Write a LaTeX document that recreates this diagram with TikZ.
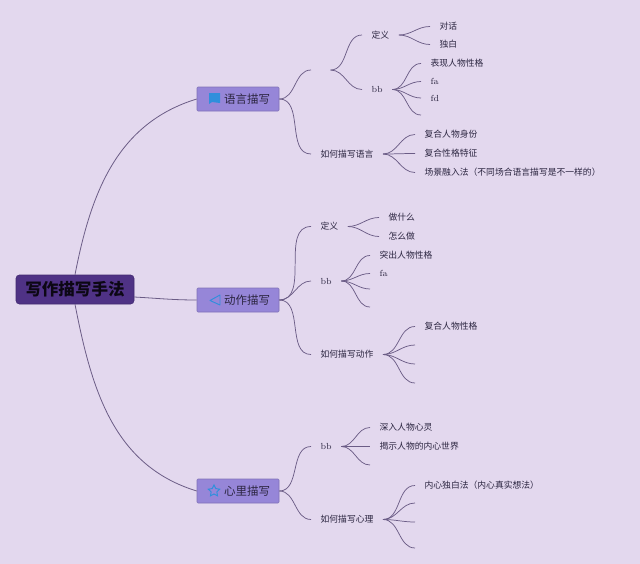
\documentclass[tikz,border=0pt]{standalone}
\usepackage{fontspec}
\usetikzlibrary{shapes.geometric}
\newfontfamily\cjk{Noto Sans CJK SC}
\definecolor{bgcol}{HTML}{E3D8EE}
\definecolor{rootcol}{HTML}{4F3285}
\definecolor{boxcol}{HTML}{9686D8}
\definecolor{linecol}{HTML}{6B5C86}
\definecolor{textcol}{HTML}{2B2540}
\definecolor{iconcol}{HTML}{2F8FDC}
\begin{document}
\begin{tikzpicture}[x=0.75pt,y=-0.75pt]
      \tikzstyle{rootnode} = [draw=rootcol!85!black, fill=rootcol, rounded corners=2.5pt, minimum width=88.5pt, minimum height=21.75pt, inner sep=0pt, font=\cjk\bfseries\fontsize{12.4}{14}\selectfont, text=black!85!rootcol]
      \tikzstyle{topicnode} = [draw=boxcol!85!black, fill=boxcol, rounded corners=0.8pt, minimum height=18pt, text width=48pt, inner xsep=6.75pt, inner ysep=0pt, align=right, font=\cjk\fontsize{8.6}{10}\selectfont, text=textcol]
      \tikzstyle{lab} = [anchor=west, inner xsep=7pt, inner ysep=0pt, text height=5.6pt, text depth=0.9pt, font=\cjk\fontsize{6.6}{8}\selectfont, text=textcol]
      \tikzstyle{latlab} = [lab, font=\rmfamily\fontsize{6.6}{8}\selectfont]
      \tikzstyle{conn} = [draw=linecol, line width=0.55pt, out=0, in=180]
      \tikzstyle{trunk} = [draw=linecol, line width=0.6pt]
      \tikzstyle{icon} = [iconcol, line width=0.7pt, inner sep=0pt]

      \fill[bgcol] (0,0) rectangle (640,564);

      \node[rootnode] (root) at (75,289.5) {写作描写手法};
      \coordinate (rootout) at (134,297);
      \node[topicnode] (yuyan) at (238,99) {语言描写};
      \node[topicnode] (dongzuo) at (238,300) {动作描写};
      \node[topicnode] (xinli) at (238,491) {心里描写};

      % icons
      \fill[icon] (209,93) -- (220,93) -- (220,103) -- (212,102) -- (209,104) -- cycle;
      \draw[icon, line join=round] (220,295) -- (210,300.5) -- (220,305) -- cycle;
      \node[icon, draw, star, star points=5, star point ratio=2, minimum size=9pt] (staricon) at (214,491) {};

      \draw[trunk] (root.north) to[out=79, in=197] (yuyan.west);
      \draw[trunk] (rootout) to[out=-3, in=180] (dongzuo.west);
      \draw[trunk] (root.south) to[out=-79, in=163] (xinli.west);

      % language branch
      \node[lab, minimum width=14.25pt] (y0) at (311,70) {};
      \node[lab] (y1) at (362,35) {定义};
      \node[latlab] (y2) at (362,89.5) {bb};
      \node[lab] (y3) at (311,154) {如何描写语言};
      \node[lab] (y11) at (430,26.5) {对话};
      \node[lab] (y12) at (430,44.5) {独白};
      \node[lab] (y21) at (421,63.5) {表现人物性格};
      \node[latlab] (y22) at (421,81.5) {fa};
      \node[latlab] (y23) at (421,98) {fd};
      \coordinate (y24) at (421,115);
      \node[lab] (y31) at (415,134.5) {复合人物身份};
      \node[lab] (y32) at (415,153.5) {复合性格特征};
      \node[lab] (y33) at (415,172.5) {场景融入法（不同场合语言描写是不一样的）};

      \draw[conn] (yuyan.east) to (y0.west);
      \draw[conn] (yuyan.east) to (y3.west);
      \draw[conn] (y0.east) to (y1.west);
      \draw[conn] (y0.east) to (y2.west);
      \draw[conn] (y1.east) to (y11.west);
      \draw[conn] (y1.east) to (y12.west);
      \draw[conn] (y2.east) to (y21.west);
      \draw[conn] (y2.east) to (y22.west);
      \draw[conn] (y2.east) to (y23.west);
      \draw[conn] (y2.east) to (y24);
      \draw[conn] (y3.east) to (y31.west);
      \draw[conn] (y3.east) to (y32.west);
      \draw[conn] (y3.east) to (y33.west);

      % action branch
      \node[lab] (d1) at (311,226.5) {定义};
      \node[latlab] (d2) at (311,281) {bb};
      \node[lab] (d3) at (311,354.5) {如何描写动作};
      \node[lab] (d11) at (379,217.5) {做什么};
      \node[lab] (d12) at (379,236.5) {怎么做};
      \node[lab] (d21) at (370,255.5) {突出人物性格};
      \node[latlab] (d22) at (370,273.5) {fa};
      \coordinate (d23) at (370,289);
      \coordinate (d24) at (370,307);
      \node[lab] (d31) at (415,326.5) {复合人物性格};
      \coordinate (d32) at (415,345);
      \coordinate (d33) at (415,364);
      \coordinate (d34) at (415,383);

      \draw[conn] (dongzuo.east) to (d1.west);
      \draw[conn] (dongzuo.east) to (d2.west);
      \draw[conn] (dongzuo.east) to (d3.west);
      \draw[conn] (d1.east) to (d11.west);
      \draw[conn] (d1.east) to (d12.west);
      \draw[conn] (d2.east) to (d21.west);
      \draw[conn] (d2.east) to (d22.west);
      \draw[conn] (d2.east) to (d23);
      \draw[conn] (d2.east) to (d24);
      \draw[conn] (d3.east) to (d31.west);
      \draw[conn] (d3.east) to (d32);
      \draw[conn] (d3.east) to (d33);
      \draw[conn] (d3.east) to (d34);

      % mind branch
      \node[latlab] (x1) at (311,446.5) {bb};
      \node[lab] (x2) at (311,519.5) {如何描写心理};
      \node[lab] (x11) at (370,427.5) {深入人物心灵};
      \node[lab] (x12) at (370,446.5) {揭示人物的内心世界};
      \coordinate (x13) at (370,465);
      \node[lab] (x21) at (415,485.5) {内心独白法（内心真实想法）};
      \coordinate (x22) at (415,503);
      \coordinate (x23) at (415,522);
      \coordinate (x24) at (415,548);

      \draw[conn] (xinli.east) to (x1.west);
      \draw[conn] (xinli.east) to (x2.west);
      \draw[conn] (x1.east) to (x11.west);
      \draw[conn] (x1.east) to (x12.west);
      \draw[conn] (x1.east) to (x13);
      \draw[conn] (x2.east) to (x21.west);
      \draw[conn] (x2.east) to (x22);
      \draw[conn] (x2.east) to (x23);
      \draw[conn] (x2.east) to (x24);
\end{tikzpicture}
\end{document}
